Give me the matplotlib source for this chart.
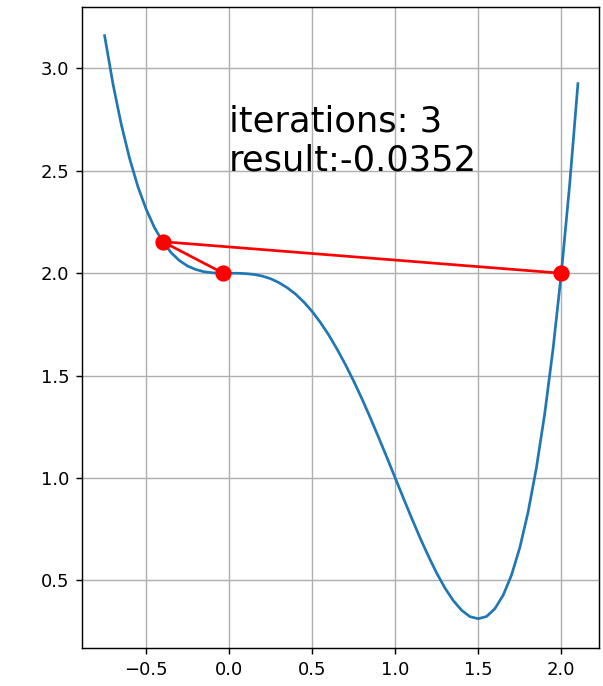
import numpy as np
import matplotlib
matplotlib.use("Agg")
import matplotlib.pyplot as plt

# curve samples
x_curve = [-0.75, -0.70, -0.65, -0.60, -0.55, -0.50, -0.45, -0.40, -0.35, -0.30,
           -0.25, -0.20, -0.15, -0.10, -0.05, 0.00, 0.05, 0.10, 0.15, 0.20,
           0.25, 0.30, 0.35, 0.40, 0.45, 0.50, 0.55, 0.60, 0.65, 0.70,
           0.75, 0.80, 0.85, 0.90, 0.95, 1.00, 1.05, 1.10, 1.15, 1.20,
           1.25, 1.30, 1.35, 1.40, 1.45, 1.50, 1.55, 1.60, 1.65, 1.70,
           1.75, 1.80, 1.85, 1.90, 1.95, 2.00, 2.05, 2.10]
y_curve = [3.160, 2.926, 2.728, 2.562, 2.424, 2.313, 2.223, 2.154, 2.101, 2.062,
           2.035, 2.018, 2.007, 2.002, 2.000, 2.000, 2.000, 1.998, 1.994, 1.986,
           1.973, 1.954, 1.929, 1.898, 1.859, 1.813, 1.759, 1.698, 1.629, 1.554,
           1.473, 1.386, 1.294, 1.198, 1.100, 1.000, 0.900, 0.802, 0.707, 0.618,
           0.535, 0.462, 0.401, 0.354, 0.323, 0.313, 0.324, 0.362, 0.428, 0.526,
           0.660, 0.834, 1.050, 1.314, 1.629, 2.000, 2.431, 2.926]

# iteration points (red)
x_iter = [2.0, -0.40, -0.0352]
y_iter = [2.000, 2.154, 2.000]

n_iter = 3
result = -0.0352

fig = plt.figure(figsize=(603 / 130, 686 / 130), dpi=130)
ax = fig.add_axes([0.136, 0.0554, 0.8574, 0.9344])

ax.plot(x_curve, y_curve, color="#1f77b4", zorder=2)
ax.plot(x_iter, y_iter, color="red", zorder=3)
ax.scatter(x_iter, y_iter, color="red", s=64, zorder=4)

ax.text(0.0, 2.5, f"iterations: {n_iter}\nresult:{result}", fontsize=19.5)

ax.set_xlim(-0.886, 2.227)
ax.set_ylim(0.17, 3.30)
ax.grid(True)

fig.savefig("out.png", dpi=130)
